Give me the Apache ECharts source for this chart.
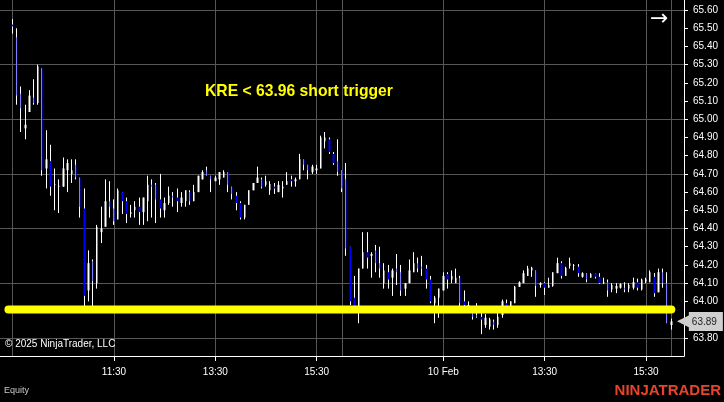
<!DOCTYPE html>
<html><head><meta charset="utf-8">
<script src="https://cdn.jsdelivr.net/npm/echarts@6/dist/echarts.min.js"></script>
<style>html,body{margin:0;padding:0;background:#000;}#c{width:724px;height:402px;}</style>
</head><body><div id="c"></div>
<script>
// 5-minute OHLC bars, KRE, 7 Feb -> 10 Feb
const openP = [65.52,65.45,65.14,64.95,65.04,65.12,65.09,65.28,64.73,64.77,64.64,64.63,64.63,64.72,64.70,64.75,64.68,64.51,64.06,64.22,
64.10,64.38,64.41,64.55,64.51,64.45,64.60,64.55,64.48,64.50,64.52,64.49,64.55,64.64,64.64,64.56,64.50,64.54,64.58,64.57,
64.54,64.55,64.60,64.55,64.60,64.67,64.72,64.69,64.66,64.67,64.68,64.71,64.63,64.58,64.54,64.46,64.53,64.61,64.65,64.67,
64.64,64.61,64.63,64.60,64.62,64.64,64.67,64.66,64.67,64.78,64.75,64.71,64.72,64.73,64.88,64.89,64.81,64.77,64.72,64.67,
64.30,64.02,63.97,64.18,64.27,64.25,64.28,64.21,64.10,64.16,64.13,64.18,64.16,64.07,64.10,64.16,64.21,64.19,64.18,64.12,
63.99,64.02,64.06,64.15,64.12,64.10,64.13,64.00,63.96,63.94,63.925,63.915,63.87,63.86,63.89,63.87,63.925,63.99,63.965,63.99,
64.08,64.10,64.14,64.17,64.17,64.09,64.10,64.075,64.085,64.155,64.21,64.14,64.195,64.195,64.19,64.135,64.155,64.13,64.155,64.135,
64.10,64.105,64.065,64.07,64.075,64.075,64.07,64.075,64.105,64.065,64.11,64.105,64.135,64.05,64.16,64.10,63.87];
const closeP = [65.51,65.13,65.06,64.97,65.13,65.09,65.29,64.72,64.78,64.63,64.645,64.635,64.73,64.76,64.72,64.68,64.52,64.03,64.21,64.11,
64.41,64.40,64.55,64.52,64.44,64.61,64.55,64.48,64.49,64.52,64.49,64.57,64.64,64.63,64.56,64.51,64.54,64.58,64.57,64.55,
64.57,64.61,64.55,64.60,64.69,64.71,64.69,64.67,64.68,64.71,64.71,64.64,64.59,64.54,64.46,64.53,64.61,64.65,64.68,64.63,
64.66,64.645,64.62,64.64,64.63,64.66,64.66,64.67,64.78,64.75,64.72,64.74,64.73,64.90,64.90,64.82,64.76,64.71,64.62,64.29,
64.00,63.97,64.18,64.27,64.24,64.26,64.21,64.18,64.17,64.12,64.17,64.16,64.06,64.10,64.17,64.21,64.18,64.18,64.12,64.00,
64.02,64.07,64.14,64.12,64.14,64.13,63.99,63.98,63.98,63.915,63.915,63.90,63.91,63.90,63.87,63.915,64.00,63.975,64.00,64.08,
64.105,64.155,64.18,64.185,64.085,64.10,64.075,64.09,64.16,64.21,64.14,64.185,64.21,64.20,64.155,64.155,64.12,64.15,64.135,64.10,
64.105,64.06,64.09,64.085,64.095,64.065,64.09,64.105,64.075,64.12,64.12,64.16,64.045,64.16,64.10,63.88,63.89];
const lowP = [65.47,65.08,64.93,64.89,65.04,65.08,65.08,64.69,64.62,64.58,64.50,64.485,64.63,64.60,64.65,64.67,64.46,63.97,64.00,63.97,
64.07,64.32,64.41,64.46,64.42,64.45,64.48,64.43,64.46,64.46,64.42,64.42,64.44,64.46,64.43,64.46,64.46,64.53,64.52,64.49,
64.52,64.52,64.53,64.55,64.60,64.67,64.69,64.60,64.66,64.64,64.68,64.60,64.56,64.50,64.45,64.45,64.53,64.61,64.65,64.62,
64.63,64.585,64.59,64.60,64.57,64.64,64.63,64.63,64.67,64.72,64.67,64.70,64.70,64.73,64.84,64.81,64.75,64.69,64.60,64.25,
63.98,63.97,63.88,64.18,64.18,64.13,64.16,64.13,64.07,64.07,64.03,64.09,64.03,64.03,64.10,64.16,64.16,64.14,64.07,63.99,
63.88,63.91,64.06,64.07,64.10,64.10,63.97,63.97,63.95,63.90,63.91,63.82,63.855,63.845,63.845,63.855,63.91,63.955,63.955,63.99,
64.08,64.10,64.14,64.135,64.025,64.075,64.035,64.075,64.08,64.155,64.125,64.14,64.18,64.17,64.135,64.13,64.105,64.13,64.125,64.095,
64.095,64.025,64.05,64.045,64.07,64.05,64.05,64.065,64.06,64.06,64.10,64.105,64.025,64.05,64.075,63.88,63.845];
const highP = [65.55,65.50,65.18,65.08,65.16,65.22,65.30,65.28,64.94,64.86,64.73,64.67,64.79,64.78,64.78,64.78,64.68,64.62,64.28,64.23,
64.42,64.52,64.67,64.66,64.56,64.62,64.60,64.57,64.53,64.55,64.57,64.57,64.69,64.67,64.65,64.70,64.57,64.63,64.60,64.62,
64.60,64.61,64.61,64.64,64.69,64.72,64.74,64.69,64.69,64.71,64.72,64.71,64.63,64.60,64.55,64.53,64.61,64.65,64.74,64.68,
64.69,64.66,64.65,64.66,64.66,64.71,64.69,64.68,64.81,64.78,64.75,64.75,64.75,64.91,64.93,64.90,64.82,64.89,64.72,64.76,
64.30,64.14,64.18,64.38,64.38,64.27,64.31,64.30,64.21,64.20,64.18,64.26,64.20,64.10,64.23,64.27,64.24,64.25,64.20,64.14,
64.03,64.07,64.16,64.16,64.17,64.18,64.14,64.06,64.00,63.975,63.99,63.94,63.93,63.91,63.90,63.94,64.01,64.01,64.00,64.085,
64.11,64.17,64.195,64.19,64.17,64.105,64.105,64.13,64.16,64.24,64.22,64.19,64.24,64.205,64.205,64.16,64.155,64.155,64.155,64.155,
64.13,64.12,64.10,64.10,64.10,64.105,64.10,64.13,64.125,64.125,64.13,64.17,64.155,64.18,64.18,64.16,63.905];

const sessionStartBars = [0, 78, 156];
const tickBars = [24, 48, 72, 102, 126, 150];
const tickLabels = ['11:30', '13:30', '15:30', '10 Feb', '13:30', '15:30'];
const priceGridLevels = [63.8, 64.1, 64.4, 64.7, 65.0, 65.3, 65.6];
const triggerLevel = 63.955;
const triggerText = 'KRE < 63.96 short trigger';
const lastPrice = 63.89;

const PAD = 3;
const nBars = openP.length;
const categories = [];
for (let i = 0; i < PAD; i++) categories.push('pre' + i);
for (let k = 0; k < nBars; k++) {
  const day = k < 78 ? '07 Feb' : '10 Feb';
  const m = 570 + 5 * (k < 78 ? k : k - 78);
  categories.push(day + ' ' + String(Math.floor(m / 60)).padStart(2, '0') + ':' + String(m % 60).padStart(2, '0'));
}
for (let i = 0; i < PAD; i++) categories.push('post' + i);

const tickIdx = new Map(tickBars.map((b, i) => [b + PAD, tickLabels[i]]));
const gridIdx = new Set([...sessionStartBars, ...tickBars].map(b => b + PAD));

const wickData = openP.map((o, k) => [k + PAD, o, closeP[k], lowP[k], highP[k]]);
const bodyData = openP.map((o, k) => [k + PAD, o, closeP[k], Math.min(o, closeP[k]), Math.max(o, closeP[k])]);

const chart = echarts.init(document.getElementById('c'), null, {renderer: 'canvas'});
const FONT = '"Liberation Sans", Arial, sans-serif';
chart.setOption({
  backgroundColor: '#000000',
  animation: false,
  grid: {left: 0, right: 40, top: 0, bottom: 46, containLabel: false},
  xAxis: {
    type: 'category', data: categories, boundaryGap: false,
    axisLine: {show: true, lineStyle: {color: '#ffffff', width: 1}},
    axisTick: {show: true, length: 5, interval: (i) => tickIdx.has(i), lineStyle: {color: '#ffffff'}},
    axisLabel: {show: true, interval: (i) => tickIdx.has(i), formatter: (v, i) => tickIdx.get(i) || '',
      color: '#ffffff', fontSize: 10, fontFamily: FONT, margin: 11},
    splitLine: {show: true, interval: (i) => gridIdx.has(i), lineStyle: {color: '#575757', width: 1}}
  },
  yAxis: {
    type: 'value', position: 'right', min: 63.70, max: 65.655, interval: 0.1, scale: true,
    axisLine: {show: true, lineStyle: {color: '#ffffff', width: 1}},
    axisTick: {show: true, inside: false, length: 4, lineStyle: {color: '#ffffff'}},
    axisLabel: {show: true, color: '#ffffff', fontSize: 10, fontFamily: FONT, margin: 9,
      showMinLabel: false, showMaxLabel: false, formatter: (v) => v.toFixed(2)},
    splitLine: {show: false}
  },
  series: [
    {
      name: 'wicks', type: 'candlestick', data: wickData, encode: {x: 0, y: [1, 2, 3, 4]},
      barWidth: 1, z: 2, silent: true,
      itemStyle: {color: '#ffffff', color0: '#ffffff', borderColor: '#ffffff', borderColor0: '#ffffff', borderWidth: 1},
      markLine: {
        silent: true, z: 1, symbol: ['none', 'none'], label: {show: false},
        lineStyle: {color: '#575757', width: 1, type: 'solid'},
        data: priceGridLevels.map(v => ({yAxis: v}))
      }
    },
    {
      name: 'bodies', type: 'candlestick', data: bodyData, encode: {x: 0, y: [1, 2, 3, 4]},
      barWidth: 2, z: 3, silent: true,
      itemStyle: {color: '#ffffff', color0: '#0000ff', borderColor: '#ffffff', borderColor0: '#0000ff', borderWidth: 0}
    },
    {
      name: 'trigger', type: 'line', z: 4, silent: true, symbol: 'none', clip: false,
      data: [[2, triggerLevel], [159, triggerLevel]],
      lineStyle: {color: '#ffff00', width: 8, cap: 'round'}
    },
    {
      name: 'last', type: 'line', z: 10, silent: true, symbol: 'none', clip: false,
      data: [],
      markLine: {
        silent: true, z: 10, symbol: ['none', 'none'],
        lineStyle: {color: 'rgba(0,0,0,0)', width: 0},
        label: {
          show: true, position: 'end', distance: -7,
          formatter: () => '{a|◀}{b|' + lastPrice.toFixed(2) + '}',
          rich: {
            a: {color: '#cfcfcf', fontSize: 18, fontFamily: 'DejaVu Sans', lineHeight: 19, padding: [0, -2, 0, 0]},
            b: {backgroundColor: '#cfcfcf', color: '#222222', fontSize: 10, fontFamily: FONT, padding: [5, 6, 4, 3], lineHeight: 10}
          }
        },
        data: [{yAxis: lastPrice}]
      }
    }
  ],
  graphic: [
    {type: 'text', left: 205, top: 84, z: 20, style: {text: triggerText, fill: '#ffff00', font: 'bold 15.7px ' + FONT}},
    {type: 'text', left: 5, top: 339, z: 20, style: {text: '© 2025 NinjaTrader, LLC', fill: '#ffffff', font: '10px ' + FONT}},
    {type: 'text', left: 4, top: 386, z: 20, style: {text: 'Equity', fill: '#c8c8c8', font: '9px ' + FONT}},
    {type: 'text', right: 3, top: 383, z: 20, style: {text: 'NINJATRADER', fill: '#e8442b', font: 'bold 15px ' + FONT}},
    {type: 'text', left: 650, top: 8, z: 20, style: {text: '→', fill: '#ffffff', font: '22px "DejaVu Sans"'}}
  ]
});
</script></body></html>
